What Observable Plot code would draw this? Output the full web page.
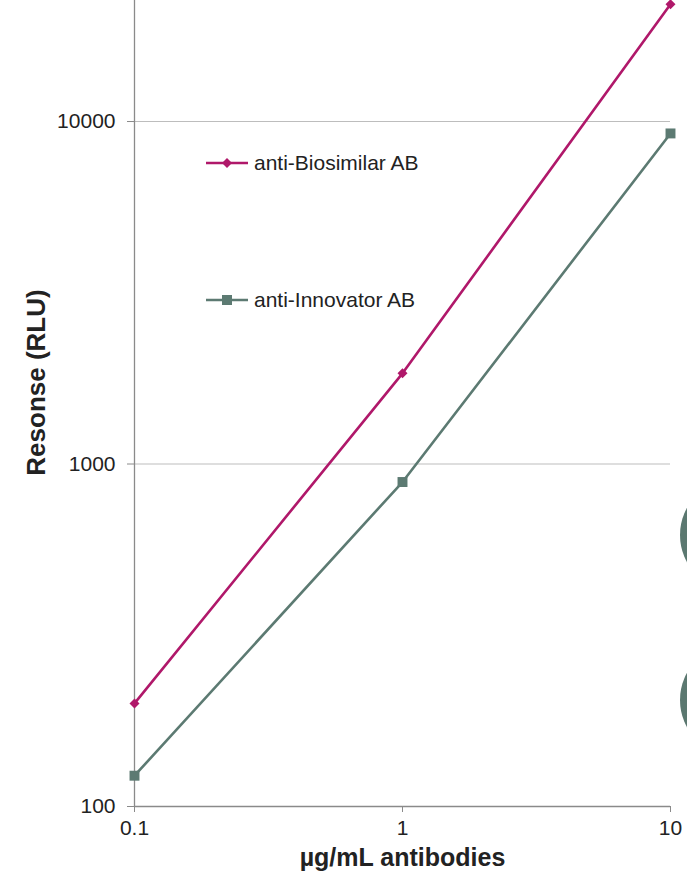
<!DOCTYPE html>
<html>
<head>
<meta charset="utf-8">
<script src="https://cdn.jsdelivr.net/npm/d3@7"></script>
<script src="https://cdn.jsdelivr.net/npm/@observablehq/plot@0.6"></script>
<style>
  html, body { margin: 0; padding: 0; background: #fff; }
  #wrap { position: relative; width: 687px; height: 883px; overflow: hidden; font-family: "Liberation Sans", Arial, sans-serif; }
  .leg { position: absolute; display: flex; align-items: center; font-size: 21px; color: #222; white-space: nowrap; }
  .leg svg { margin-right: 6px; }
  .deco { position: absolute; border-radius: 50%; background: #5b7870; }
</style>
</head>
<body>
<div id="wrap"></div>
<script>
// Data
const concentrations = [0.1, 1, 10];
const seriesNames = ["anti-Biosimilar AB", "anti-Innovator AB"];
const biosimilarValues = [200, 1840, 22000];
const innovatorValues = [123, 886, 9230];
const xTickValues = [0.1, 1, 10];
const xTickLabels = ["0.1", "1", "10"];
const yTickValues = [100, 1000, 10000];
const yTickLabels = ["100", "1000", "10000"];
const colors = ["#b0186a", "#5c7a72"];
const symbols = ["diamond2", "square"];

const rows = [];
[biosimilarValues, innovatorValues].forEach((vals, s) => {
  concentrations.forEach((c, i) => rows.push({series: seriesNames[s], x: c, y: vals[i]}));
});

const font = "Liberation Sans, Arial, sans-serif";

const chart = Plot.plot({
  width: 687,
  height: 883,
  marginLeft: 134,
  marginRight: 17,
  marginTop: 0,
  marginBottom: 77,
  style: {fontFamily: font, background: "transparent", color: "#222", overflow: "visible"},
  x: {type: "log", domain: [0.1, 10]},
  y: {type: "log", domain: [100, 22560]},
  color: {domain: seriesNames, range: colors},
  marks: [
    Plot.gridY(yTickValues.slice(1), {stroke: "#bdbdbd", strokeOpacity: 1, strokeWidth: 1.2}),
    Plot.ruleX([0.1], {stroke: "#8a8a8a", strokeWidth: 1.3}),
    Plot.ruleY([100], {stroke: "#8a8a8a", strokeWidth: 1.3}),
    Plot.axisY({ticks: yTickValues, tickFormat: (d) => yTickLabels[yTickValues.indexOf(d)], tickSize: 7, tickPadding: 12, fontSize: 21, stroke: "#8a8a8a", fill: "#222", label: null}),
    Plot.axisX({ticks: xTickValues, tickFormat: (d) => xTickLabels[xTickValues.indexOf(d)], tickSize: 6, tickPadding: 8, fontSize: 21, stroke: "#8a8a8a", fill: "#222", label: null}),
    Plot.line(rows, {x: "x", y: "y", z: "series", stroke: "series", strokeWidth: 2.6}),
    Plot.dot(rows.filter(d => d.series === seriesNames[0]), {x: "x", y: "y", symbol: () => symbols[0], r: 4.5, fill: colors[0], stroke: "none"}),
    Plot.dot(rows.filter(d => d.series === seriesNames[1]), {x: "x", y: "y", symbol: () => symbols[1], r: 5.6, fill: colors[1], stroke: "none"}),
    Plot.text(["µg/mL antibodies"], {frameAnchor: "bottom", dy: 59, fontSize: 25, fontWeight: "bold", fill: "#222"}),
    Plot.text(["Resonse (RLU)"], {frameAnchor: "left", textAnchor: "middle", dx: -98, dy: -21, rotate: -90, fontSize: 26, fontWeight: "bold", fill: "#222"})
  ]
});

const wrap = document.getElementById("wrap");
wrap.appendChild(chart);

// Legend (inside plot area, top-left)
const legendTops = [150, 287];
seriesNames.forEach((name, i) => {
  const div = document.createElement("div");
  div.className = "leg";
  div.style.left = "206px";
  div.style.top = legendTops[i] + "px";
  const marker = i === 0
    ? `<path d="M21,8 L26,13 L21,18 L16,13 Z" fill="${colors[i]}"/>`
    : `<rect x="16" y="8" width="10" height="10" fill="${colors[i]}"/>`;
  div.innerHTML = `<svg width="42" height="26" viewBox="0 0 42 26"><line x1="0" x2="42" y1="13" y2="13" stroke="${colors[i]}" stroke-width="2.6"/>${marker}</svg><span>${name}</span>`;
  wrap.appendChild(div);
});

// Decorative partial circles at right edge
[535, 700].forEach((cy) => {
  const c = document.createElement("div");
  c.className = "deco";
  const r = 56;
  c.style.width = c.style.height = (2 * r) + "px";
  c.style.left = "680px";
  c.style.top = (cy - r) + "px";
  wrap.appendChild(c);
});
</script>
</body>
</html>
